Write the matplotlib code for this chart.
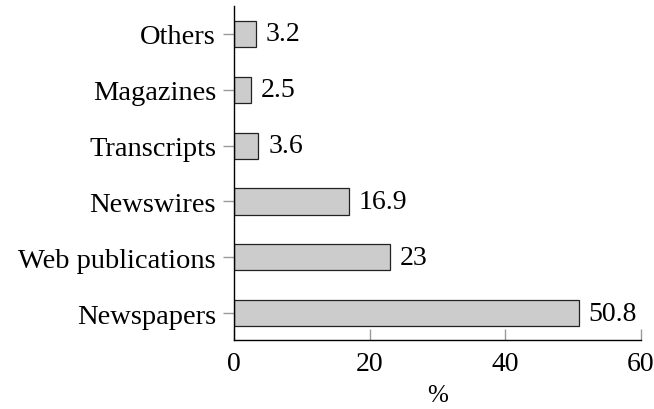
import matplotlib
matplotlib.use("Agg")
import matplotlib.pyplot as plt

categories = ["Newspapers", "Web publications", "Newswires", "Transcripts", "Magazines", "Others"]
values = [50.8, 23, 16.9, 3.6, 2.5, 3.2]
value_labels = ["50.8", "23", "16.9", "3.6", "2.5", "3.2"]
xticks = [0, 20, 40, 60]

plt.rcParams["font.family"] = ["Liberation Serif", "DejaVu Serif"]
plt.rcParams["font.size"] = 20

fig = plt.figure(figsize=(6.54, 4.10), dpi=100)
ax = fig.add_axes([234 / 654, 1 - 341 / 410, 407 / 654, 334 / 410])

pos = list(range(len(categories)))
ax.barh(pos, values, height=0.47, color="#cccccc", edgecolor="#222222", linewidth=0.9)
for p, v, lab in zip(pos, values, value_labels):
    ax.annotate(lab, (v, p), xytext=(7, 0), textcoords="offset points",
                va="center", ha="left")

ax.set_xlim(0, 60)
ax.set_ylim(-0.48, len(categories) - 0.5)
ax.set_xticks(xticks)
ax.set_yticks(pos)
ax.set_yticklabels(categories, fontsize=20.5)
ax.set_xlabel("%", labelpad=6, fontsize=18)

ax.spines["top"].set_visible(False)
ax.spines["right"].set_visible(False)
for s in ("left", "bottom"):
    ax.spines[s].set_linewidth(1.0)
ax.tick_params(axis="x", direction="in", length=8, color="#999999", width=1, pad=8)
ax.tick_params(axis="y", direction="out", length=8, color="#999999", width=1, pad=5)

fig.savefig("out.png", dpi=100)
